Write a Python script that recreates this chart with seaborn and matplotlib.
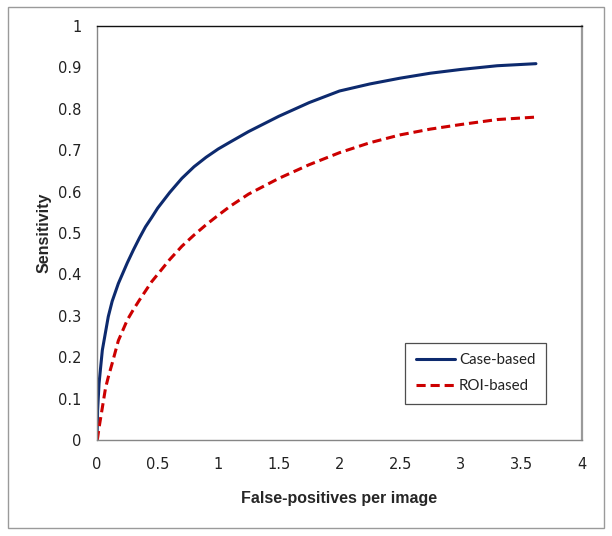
import numpy as np
import pandas as pd
import matplotlib
matplotlib.use("Agg")
import matplotlib.pyplot as plt
import seaborn as sns
from matplotlib.patches import Rectangle

# values
fp_per_image = [0, 0.005, 0.017, 0.044, 0.07, 0.093, 0.125, 0.176, 0.25, 0.3, 0.35,
                0.4, 0.45, 0.5, 0.6, 0.7, 0.8, 0.9, 1.0, 1.1, 1.25, 1.5, 1.75,
                2.0, 2.25, 2.5, 2.75, 3.0, 3.3, 3.62]
case_based = [0, 0.072, 0.137, 0.217, 0.26, 0.298, 0.335, 0.378, 0.428, 0.459, 0.488,
              0.515, 0.537, 0.56, 0.598, 0.632, 0.66, 0.683, 0.703, 0.72, 0.745, 0.782,
              0.815, 0.843, 0.86, 0.874, 0.886, 0.895, 0.904, 0.909]
roi_based = [0, 0.005, 0.03, 0.078, 0.125, 0.152, 0.185, 0.24, 0.29, 0.315, 0.338,
             0.36, 0.382, 0.40, 0.436, 0.468, 0.495, 0.52, 0.543, 0.565, 0.594, 0.632,
             0.665, 0.694, 0.718, 0.737, 0.751, 0.762, 0.774, 0.78]
series_names = ["Case-based", "ROI-based"]

df = pd.DataFrame({
    "fp": fp_per_image * 2,
    "sens": case_based + roi_based,
    "series": [series_names[0]] * len(case_based) + [series_names[1]] * len(roi_based),
})

sns.set_style("white")
plt.rcParams["font.family"] = ["DejaVu Sans"]

fig = plt.figure(figsize=(6.12, 5.36), dpi=100)
ax = fig.add_axes([97 / 612, 96 / 536, 485 / 612, 414 / 536])

sns.lineplot(data=df, x="fp", y="sens", hue="series", style="series",
             palette={"Case-based": "#0d2a6e", "ROI-based": "#cc0000"},
             dashes={"Case-based": "", "ROI-based": (3, 1.6)},
             linewidth=2.2, ax=ax, sort=False)

ax.set_xlim(0, 4)
ax.set_ylim(0, 1)
ax.set_xticks(np.arange(0, 4.01, 0.5))
ax.set_xticklabels(["0", "0.5", "1", "1.5", "2", "2.5", "3", "3.5", "4"])
ax.set_yticks(np.arange(0, 1.01, 0.1))
ax.set_yticklabels(["0", "0.1", "0.2", "0.3", "0.4", "0.5", "0.6", "0.7", "0.8", "0.9", "1"])
ax.tick_params(axis="both", direction="in", length=4, width=0.8, color="#868686",
               labelsize=10.5, labelcolor="#222222", pad=11)
ax.tick_params(axis="x", pad=12)

for side in ["left", "bottom"]:
    ax.spines[side].set_color("#868686")
    ax.spines[side].set_linewidth(1.0)
ax.spines["top"].set_color("#111111")
ax.spines["top"].set_linewidth(1.0)
ax.spines["right"].set_color("#9a9a9a")
ax.spines["right"].set_linewidth(1.6)

ax.set_xlabel("False-positives per image", fontsize=11.5, fontweight="bold",
              family=["Liberation Sans", "DejaVu Sans"], labelpad=14)
ax.set_ylabel("Sensitivity", fontsize=11.5, fontweight="bold",
              family=["Liberation Sans", "DejaVu Sans"], labelpad=5)

leg = ax.legend(loc="lower right", bbox_to_anchor=(546 / 612, 132 / 536),
                bbox_transform=fig.transFigure, borderaxespad=0,
                prop={"family": ["Lato", "DejaVu Sans"], "size": 10.8},
                frameon=True, fancybox=False, edgecolor="#222222", handlelength=2.6,
                labelspacing=0.8, borderpad=0.7, handletextpad=0.3)
leg.get_frame().set_linewidth(0.9)
for t in leg.get_texts():
    t.set_color("#222222")

# outer chart border
fig.patches.append(Rectangle((8 / 612, 8 / 536), 596 / 612, 521 / 536,
                             transform=fig.transFigure, fill=False,
                             edgecolor="#9a9a9a", linewidth=1.0))

fig.savefig("out.png", dpi=100)
